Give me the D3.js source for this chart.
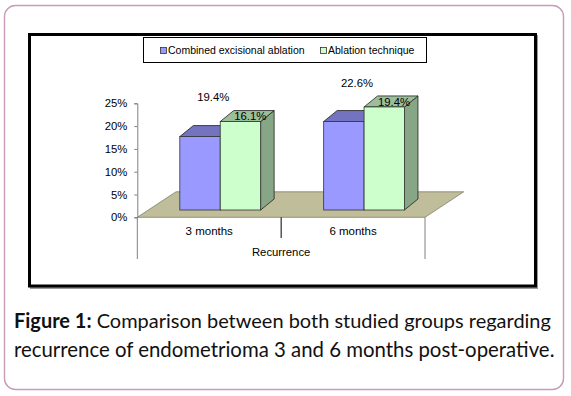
<!DOCTYPE html>
<html><head><meta charset="utf-8">
<script src="https://cdn.jsdelivr.net/npm/d3@7"></script>
<style>html,body{margin:0;padding:0;background:#fff;}svg{display:block;}</style>
</head><body><svg id="c" width="571" height="396"></svg>
<script>
// ---- data ----
const categories = ["3 months", "6 months"];
const seriesNames = ["Combined excisional ablation", "Ablation technique"];
const combinedValues = [16.1, 19.4];
const ablationValues = [19.4, 22.6];
const yTickValues = [0, 5, 10, 15, 20, 25];
const xAxisTitle = "Recurrence";
const captionBold = "Figure 1:";
const captionLine1 = " Comparison between both studied groups regarding";
const captionLine2 = "recurrence of endometrioma 3 and 6 months post-operative.";

// ---- layout ----
const svg = d3.select("#c");
const font = "'Liberation Sans', Arial, sans-serif";
const colors = {
  front: ["#9999FF", "#CCFFCC"],
  top: ["#7373C0", "#9CBF9A"],
  side: ["#5C5C99", "#86A686"]
};

// outer rounded frame
svg.append("rect").attr("x", 4.5).attr("y", 5.5).attr("width", 559).attr("height", 384)
  .attr("rx", 11).attr("fill", "none").attr("stroke", "#c69cb6").attr("stroke-width", 1.4);

// chart frame (with shadow)
svg.append("rect").attr("x", 31).attr("y", 36).attr("width", 506).attr("height", 252)
  .attr("fill", "none").attr("stroke", "#9a9a9a").attr("stroke-width", 2);
svg.append("rect").attr("x", 29.5).attr("y", 34.5).attr("width", 506).attr("height", 251.5)
  .attr("fill", "#fff").attr("stroke", "#000").attr("stroke-width", 3);

// scales
const y = d3.scaleLinear().domain([0, 25]).range([217.3, 103.3]);
const x0 = d3.scaleBand().domain(categories).range([137.3, 425]);
const x1 = d3.scaleBand().domain(seriesNames).range([0, x0.bandwidth()]).paddingInner(0).paddingOuter(0.78);

const floorD = { dx: 38.7, dy: -25.5 };
const barShift = { dx: 11, dy: -7.3 };
const depth = { dx: 13.5, dy: -11 };

// floor
const fl = x0.range()[0], fr = x0.range()[1], fy = y(0);
svg.append("path")
  .attr("d", `M${fl},${fy} L${fr},${fy} L${fr + floorD.dx},${fy + floorD.dy} L${fl + floorD.dx},${fy + floorD.dy} Z`)
  .attr("fill", "#C0BD9A").attr("stroke", "#7f7f6a").attr("stroke-width", 0.8);

// y axis
const yAxisG = svg.append("g").attr("transform", `translate(${fl},0)`)
  .call(d3.axisLeft(y).tickValues(yTickValues).tickFormat(d => d + "%").tickSize(3).tickPadding(7));
yAxisG.select(".domain").attr("stroke", "#808080");
yAxisG.selectAll(".tick line").attr("stroke", "#808080");
yAxisG.selectAll(".tick text").attr("font-family", font).attr("font-size", 11.3).attr("fill", "#000");

// bars
const seriesData = [combinedValues, ablationValues];
categories.forEach((cat, ci) => {
  seriesNames.forEach((s, si) => {
    const v = seriesData[si][ci];
    const xl = x0(cat) + x1(s) + barShift.dx;
    const xr = xl + x1.bandwidth();
    const yb = y(0) + barShift.dy;
    const yt = y(v) + barShift.dy;
    const g = svg.append("g");
    g.append("path").attr("d", `M${xr},${yt} L${xr + depth.dx},${yt + depth.dy} L${xr + depth.dx},${yb + depth.dy} L${xr},${yb} Z`)
      .attr("fill", colors.side[si]).attr("stroke", "#222").attr("stroke-width", 0.8);
    g.append("path").attr("d", `M${xl},${yt} L${xl + depth.dx},${yt + depth.dy} L${xr + depth.dx},${yt + depth.dy} L${xr},${yt} Z`)
      .attr("fill", colors.top[si]).attr("stroke", "#222").attr("stroke-width", 0.8);
    g.append("rect").attr("x", xl).attr("y", yt).attr("width", xr - xl).attr("height", yb - yt)
      .attr("fill", colors.front[si]).attr("stroke", "#333").attr("stroke-width", 0.8);
  });
});

// data labels (positioned as in the original Excel chart)
categories.forEach((cat, ci) => {
  const gx = x0(cat) + x1(seriesNames[1]) + barShift.dx;
  const gy = y(ablationValues[ci]) + barShift.dy;
  svg.append("text").attr("x", gx + 30).attr("y", gy - 5).attr("dy", "0.35em")
    .attr("text-anchor", "middle").attr("font-family", font).attr("font-size", 11.3)
    .text(combinedValues[ci].toFixed(1) + "%");
  svg.append("text").attr("x", gx - 7).attr("y", gy - 24).attr("dy", "0.35em")
    .attr("text-anchor", "middle").attr("font-family", font).attr("font-size", 11.3)
    .text(ablationValues[ci].toFixed(1) + "%");
});

// category axis (below floor)
svg.append("line").attr("x1", fl).attr("x2", fl).attr("y1", fy).attr("y2", 259).attr("stroke", "#808080");
svg.append("line").attr("x1", fr).attr("x2", fr).attr("y1", fy).attr("y2", 259).attr("stroke", "#808080");
svg.append("line").attr("x1", x0(categories[1])).attr("x2", x0(categories[1])).attr("y1", fy).attr("y2", 238).attr("stroke", "#000");
categories.forEach(cat => {
  svg.append("text").attr("x", x0(cat) + x0.bandwidth() / 2).attr("y", 231).attr("dy", "0.35em")
    .attr("text-anchor", "middle").attr("font-family", font).attr("font-size", 11.5).text(cat);
});
svg.append("text").attr("x", (fl + fr) / 2).attr("y", 252).attr("dy", "0.35em")
  .attr("text-anchor", "middle").attr("font-family", font).attr("font-size", 11.3).text(xAxisTitle);

// legend
svg.append("rect").attr("x", 143.5).attr("y", 37.5).attr("width", 283).attr("height", 25)
  .attr("fill", "#fff").attr("stroke", "#000").attr("stroke-width", 1);
const legX = [160.5, 320.5];
seriesNames.forEach((s, i) => {
  svg.append("rect").attr("x", legX[i]).attr("y", 47.5).attr("width", 6).attr("height", 6)
    .attr("fill", colors.front[i]).attr("stroke", "#333").attr("stroke-width", 0.8);
  svg.append("text").attr("x", legX[i] + 7.5).attr("y", 50.7).attr("dy", "0.35em")
    .attr("font-family", font).attr("font-size", 10.5).text(s);
});

// caption
const capFont = "Lato, 'Open Sans', sans-serif";
const t1 = svg.append("text").attr("x", 14).attr("y", 328).attr("font-family", capFont).attr("font-size", 20).attr("fill", "#111");
t1.append("tspan").attr("font-weight", "bold").text(captionBold);
t1.append("tspan").text(captionLine1);
const t2 = svg.append("text").attr("x", 14).attr("y", 357).attr("font-family", capFont).attr("font-size", 20).attr("fill", "#111")
  .text(captionLine2);
// fit widths to original
[[t1, 537], [t2, 541]].forEach(([t, w]) => {
  const len = t.node().getComputedTextLength();
  t.attr("font-size", 20 * w / len);
});
</script></body></html>
